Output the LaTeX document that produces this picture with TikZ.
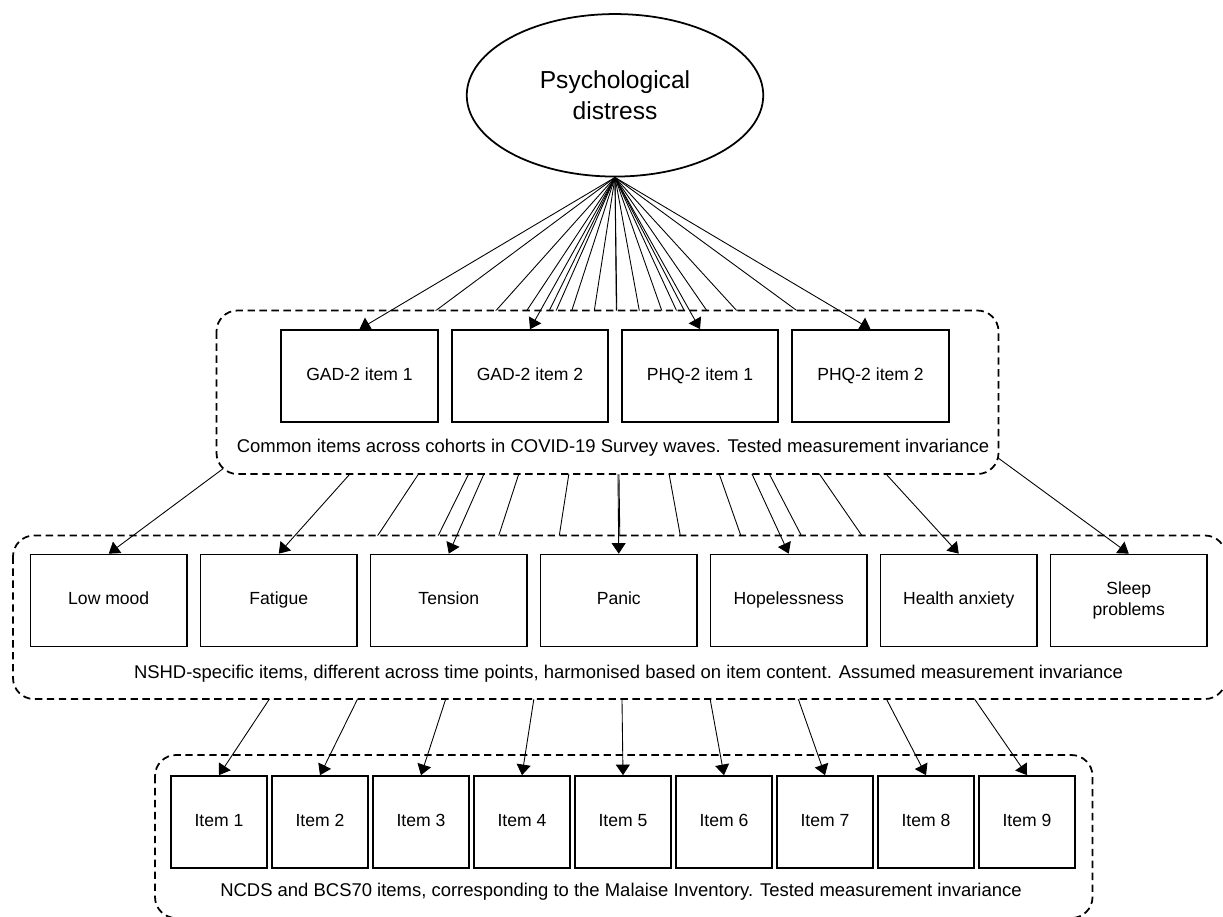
\documentclass[tikz,border=0pt]{standalone}
\usepackage{fontspec}
\setmainfont{Liberation Sans}
\usepackage{tikz}
\usetikzlibrary{arrows.meta}
\usetikzlibrary{shapes.geometric}
\pgfdeclarelayer{grpC}
\pgfdeclarelayer{arrC}
\pgfdeclarelayer{grpB}
\pgfdeclarelayer{arrB}
\pgfdeclarelayer{grpA}
\pgfdeclarelayer{arrA}
\pgfsetlayers{grpC,arrC,grpB,arrB,grpA,arrA,main}
\tikzstyle{box} = [draw, line width = 1pt, fill = white, inner sep = 0, minimum height = 1.84cm, align = center, font = \fontsize{10}{12.3}\selectfont]
\tikzstyle{line1} = [text height = 7.2pt, text depth = 2.1pt]
\tikzstyle{wbox} = [box, minimum width = 3.13cm]
\tikzstyle{nbox} = [box, line1, minimum width = 1.92cm]
\tikzstyle{grp} = [draw, line width = 1pt, dash pattern = on 4.2pt off 2.6pt, rounded corners = 0.42cm, fill = white]
\tikzstyle{grptxt} = [anchor = base, inner sep = 0, font = \fontsize{10.5}{12}\selectfont]
\tikzstyle{load} = [-{Triangle[length = 6pt, width = 8pt]}, line width = 0.5pt]

\begin{document}
\begin{tikzpicture}
\useasboundingbox (0, 0) rectangle (24.46, -18.32);
% latent factor
\node [draw, ellipse, line width = 1pt, minimum width = 5.93cm, minimum height = 3.25cm, inner sep = 0, align = center, font = \fontsize{14}{17.5}\selectfont] (PD) at (12.30, -1.906) {Psychological\\distress};
% COVID-19 survey items
\node [wbox, line1] (GAD1) at (7.19, -7.52) {GAD-2 item 1};
\node [wbox, line1] (GAD2) at (10.60, -7.52) {GAD-2 item 2};
\node [wbox, line1] (PHQ1) at (14.00, -7.52) {PHQ-2 item 1};
\node [wbox, line1] (PHQ2) at (17.41, -7.52) {PHQ-2 item 2};
\node [grptxt] (capA) at (12.26, -9.054) {Common items across cohorts in COVID-19 Survey waves. Tested measurement invariance};
% NSHD items
\node [wbox, line1] (LM) at (2.175, -12.01) {Low mood};
\node [wbox, line1] (FT) at (5.575, -12.01) {Fatigue};
\node [wbox, line1] (TN) at (8.975, -12.01) {Tension};
\node [wbox, line1] (PN) at (12.375, -12.01) {Panic};
\node [wbox, line1] (HP) at (15.775, -12.01) {Hopelessness};
\node [wbox, line1] (HA) at (19.175, -12.01) {Health anxiety};
\node [wbox] (SP) at (22.575, -12.01) {Sleep\\problems};
\node [grptxt] (capB) at (12.57, -13.57) {NSHD-specific items, different across time points, harmonised based on item content. Assumed measurement invariance};
% Malaise items
\node [nbox] (I1) at (4.38, -16.44) {Item 1};
\node [nbox] (I2) at (6.40, -16.44) {Item 2};
\node [nbox] (I3) at (8.42, -16.44) {Item 3};
\node [nbox] (I4) at (10.44, -16.44) {Item 4};
\node [nbox] (I5) at (12.46, -16.44) {Item 5};
\node [nbox] (I6) at (14.48, -16.44) {Item 6};
\node [nbox] (I7) at (16.50, -16.44) {Item 7};
\node [nbox] (I8) at (18.52, -16.44) {Item 8};
\node [nbox] (I9) at (20.54, -16.44) {Item 9};
\node [grptxt] (capC) at (12.42, -17.934) {NCDS and BCS70 items, corresponding to the Malaise Inventory. Tested measurement invariance};

\begin{pgfonlayer}{grpC}
\draw [grp] (3.10, -15.10) rectangle (21.85, -18.36);
\end{pgfonlayer}
\begin{pgfonlayer}{arrC}
\draw [load] (PD.south) to (I1.north);
\draw [load] (PD.south) to (I2.north);
\draw [load] (PD.south) to (I3.north);
\draw [load] (PD.south) to (I4.north);
\draw [load] (PD.south) to (I5.north);
\draw [load] (PD.south) to (I6.north);
\draw [load] (PD.south) to (I7.north);
\draw [load] (PD.south) to (I8.north);
\draw [load] (PD.south) to (I9.north);
\end{pgfonlayer}
\begin{pgfonlayer}{grpB}
\draw [grp] (0.26, -10.71) rectangle (24.52, -13.98);
\end{pgfonlayer}
\begin{pgfonlayer}{arrB}
\draw [load] (PD.south) to (LM.north);
\draw [load] (PD.south) to (FT.north);
\draw [load] (PD.south) to (TN.north);
\draw [load] (PD.south) to (PN.north);
\draw [load] (PD.south) to (HP.north);
\draw [load] (PD.south) to (HA.north);
\draw [load] (PD.south) to (SP.north);
\end{pgfonlayer}
\begin{pgfonlayer}{grpA}
\draw [grp] (4.33, -6.21) rectangle (19.97, -9.48);
\end{pgfonlayer}
\begin{pgfonlayer}{arrA}
\draw [load] (PD.south) to (GAD1.north);
\draw [load] (PD.south) to (GAD2.north);
\draw [load] (PD.south) to (PHQ1.north);
\draw [load] (PD.south) to (PHQ2.north);
\end{pgfonlayer}
\end{tikzpicture}
\end{document}
